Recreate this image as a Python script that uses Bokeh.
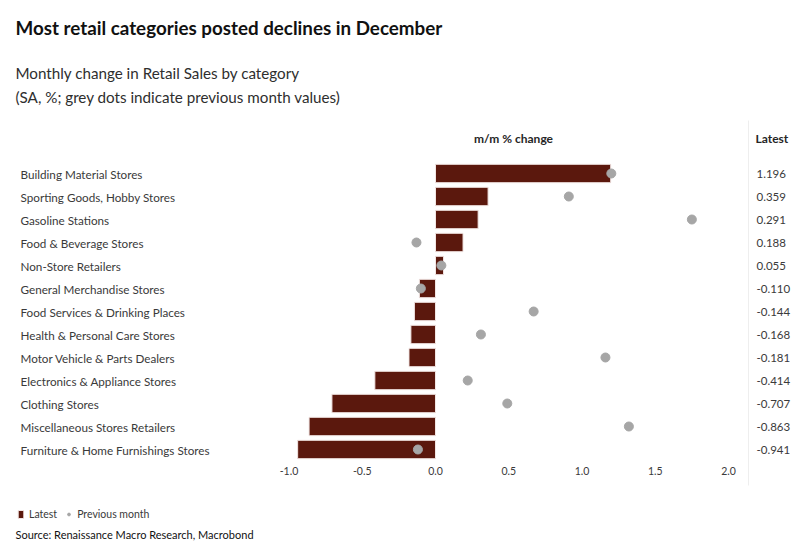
from bokeh.plotting import figure
from bokeh.models import Range1d, Legend, LegendItem
from bokeh.core.properties import value
from bokeh.embed import file_html
from bokeh.resources import INLINE

categories = [
    "Building Material Stores",
    "Sporting Goods, Hobby Stores",
    "Gasoline Stations",
    "Food & Beverage Stores",
    "Non-Store Retailers",
    "General Merchandise Stores",
    "Food Services & Drinking Places",
    "Health & Personal Care Stores",
    "Motor Vehicle & Parts Dealers",
    "Electronics & Appliance Stores",
    "Clothing Stores",
    "Miscellaneous Stores Retailers",
    "Furniture & Home Furnishings Stores",
]
latest = [1.196, 0.359, 0.291, 0.188, 0.055, -0.110, -0.144, -0.168, -0.181, -0.414, -0.707, -0.863, -0.941]
previous = [1.20, 0.91, 1.75, -0.13, 0.04, -0.10, 0.67, 0.31, 1.16, 0.22, 0.49, 1.32, -0.12]
x_ticks = [-1.0, -0.5, 0.0, 0.5, 1.0, 1.5, 2.0]
tick_labels = ["-1.0", "-0.5", "0.0", "0.5", "1.0", "1.5", "2.0"]

TITLE = "Most retail categories posted declines in December"
SUB1 = "Monthly change in Retail Sales by category"
SUB2 = "(SA, %; grey dots indicate previous month values)"
SOURCE = "Source: Renaissance Macro Research, Macrobond"

FONT = "Lato"
BAR = "#5b180d"
DOT = "#a6a6a6"

W, H = 795, 541
X0, SX = 435, 146.5      # canvas px of zero, px per unit
ROW0, ROWH = 173, 23     # canvas px of first row, px per row


def X(px):
    return (px - X0) / SX


def Y(py):
    return (ROW0 - py) / ROWH


ys = [-i for i in range(len(categories))]

p = figure(width=W, height=H, x_range=Range1d(X(0), X(W)), y_range=Range1d(Y(H), Y(0)),
           output_backend="svg", toolbar_location=None, min_border=0,
           x_axis_location=None, y_axis_location=None)
p.grid.visible = False
p.outline_line_color = None
f = value(FONT)

bars = p.hbar(y=ys, left=0, right=latest, height=0.8, fill_color=BAR, line_color="#f2e6e4", line_width=1)
dots = p.scatter(x=previous, y=ys, size=9, fill_color=DOT, line_color=DOT)

# category labels
p.text(x=X(20), y=ys, text=categories, text_baseline="middle", text_align="left",
       text_font_size="11.7px", text_color="#3a3a3a", text_font=f)
# latest values column
p.text(x=X(756), y=ys, text=[f"{v:.3f}" for v in latest], text_baseline="middle", text_align="left",
       text_font_size="11.5px", text_color="#3a3a3a", text_font=f)
# separator
p.segment(x0=X(748), x1=X(748), y0=Y(120), y1=Y(485), line_color="#eeeeee", line_width=1)
# headers
p.text(x=X(513), y=Y(138), text=["m/m % change"], text_baseline="middle", text_align="center",
       text_font_size="12px", text_font_style="bold", text_color="#262626", text_font=f)
p.text(x=X(755), y=Y(138), text=["Latest"], text_baseline="middle", text_align="left",
       text_font_size="12px", text_font_style="bold", text_color="#262626", text_font=f)
# x tick labels
p.text(x=x_ticks, y=Y(470), text=tick_labels, text_baseline="middle", text_align="center",
       text_font_size="10.5px", text_color="#3a3a3a", text_font=f)
# titles
p.text(x=X(15), y=Y(27), text=[TITLE], text_baseline="middle", text_align="left",
       text_font_size="18.8px", text_font_style="bold", text_color="#111111", text_font=f)
p.text(x=X(15), y=Y(72), text=[SUB1], text_baseline="middle", text_align="left",
       text_font_size="15.2px", text_color="#2e2e2e", text_font=f)
p.text(x=X(15), y=Y(96), text=[SUB2], text_baseline="middle", text_align="left",
       text_font_size="15.2px", text_color="#2e2e2e", text_font=f)
p.text(x=X(15), y=Y(534), text=[SOURCE], text_baseline="middle", text_align="left",
       text_font_size="11px", text_color="#111111", text_font=f)

legend = Legend(items=[LegendItem(label="Latest", renderers=[bars]),
                       LegendItem(label="Previous month", renderers=[dots])],
                orientation="horizontal", location=(17, 21), padding=0, margin=0,
                spacing=8, label_standoff=5, glyph_width=7, glyph_height=10,
                label_text_font_size="10.5px", label_text_color="#3a3a3a", label_text_font=FONT,
                background_fill_alpha=0, border_line_color=None)
p.add_layout(legend)

open("out.html", "w").write(file_html(p, INLINE))
